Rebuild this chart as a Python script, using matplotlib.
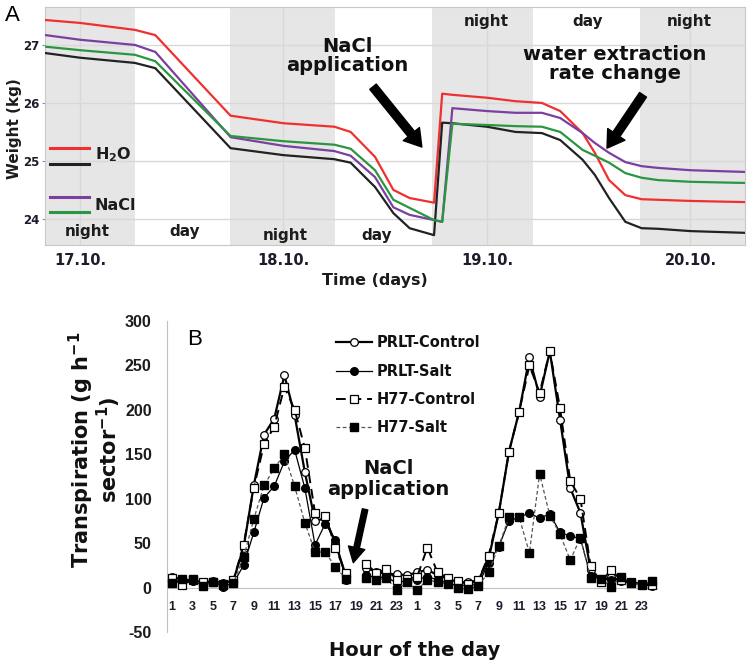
import numpy as np
import matplotlib
matplotlib.use("Agg")
import matplotlib.pyplot as plt
from matplotlib.lines import Line2D

plt.rcParams['font.family'] = ['DejaVu Sans']
plt.rcParams['mathtext.fontset'] = 'dejavusans'

# ---- panel A data: weight (kg) vs time (days after 17.10. 00:00) ----
t_days = [-0.17, 0.0, 0.27, 0.37, 0.74, 1.0, 1.25, 1.33, 1.45, 1.54, 1.62, 1.74,
          1.78, 1.83, 2.0, 2.14, 2.27, 2.36, 2.47, 2.53, 2.6, 2.68, 2.76, 2.84, 3.0, 3.27]
h2o_red = [27.43, 27.38, 27.26, 27.17, 25.78, 25.65, 25.59, 25.50, 25.07, 24.50, 24.36, 24.28,
           26.16, 26.14, 26.09, 26.03, 26.00, 25.86, 25.48, 25.14, 24.67, 24.41, 24.34, 24.33, 24.31, 24.29]
h2o_black = [26.86, 26.78, 26.69, 26.60, 25.22, 25.10, 25.03, 24.97, 24.55, 24.10, 23.84, 23.72,
             25.66, 25.65, 25.59, 25.50, 25.48, 25.36, 25.02, 24.76, 24.36, 23.95, 23.84, 23.83, 23.79, 23.76]
nacl_purple = [27.17, 27.09, 27.00, 26.88, 25.41, 25.26, 25.17, 25.09, 24.72, 24.20, 24.07, 23.98,
               23.95, 25.91, 25.86, 25.83, 25.83, 25.74, 25.48, 25.31, 25.14, 24.98, 24.91, 24.88, 24.84, 24.81]
nacl_green = [26.97, 26.91, 26.83, 26.72, 25.43, 25.34, 25.28, 25.21, 24.84, 24.33, 24.19, 23.98,
              23.95, 25.64, 25.62, 25.60, 25.59, 25.50, 25.19, 25.09, 24.97, 24.79, 24.71, 24.67, 24.64, 24.62]
night_start = [-0.172, 0.737, 1.73, 2.752]
night_end = [0.27, 1.253, 2.226, 3.268]
date_ticks = [0, 1, 2, 3]
date_labels = ['17.10.', '18.10.', '19.10.', '20.10.']

# ---- panel B data: transpiration per hour, two days (48 h) ----
nan = np.nan
hours = list(range(1, 49))
prlt_control = [12, 9, 8, 6, 7, 5, 8,
                45, 115, 172, 190, 239, 194, 130, 75, 78, 50, 14,
                nan,
                22, 18, 15, 15, 14,
                17, 20, 14, 10, 6, 6, 8,
                32, 84, 153, 198, 259, 215, 266, 189, 112, 84, 20, 8, 12, 7, 6, 4, 2]
prlt_salt = [6, 9, 7, 3, 6, 1, 5,
             25, 62, 101, 114, 142, 155, 112, 48, 72, 54, 9,
             nan,
             14, 11, 12, 5, 8,
             9, 12, 9, 5, 2, 3, 3,
             28, 46, 75, 79, 84, 78, 83, 62, 58, 55, 13, 9, 9, 10, 6, 3, 6]
h77_control = [11, 3, 9, 6, 6, 4, 8,
               48, 112, 161, 181, 226, 200, 157, 84, 81, 45, 16,
               nan,
               27, 16, 21, 9, 10,
               12, 45, 17, 11, 7, 4, 8,
               36, 84, 153, 198, 250, 219, 266, 202, 120, 100, 24, 6, 20, 8, 6, 4, 3]
h77_salt = [5, 10, 10, 2, 6, 3, 5,
            34, 77, 115, 134, 150, 114, 73, 40, 40, 23, 10,
            nan,
            11, 8, 11, -3, 6,
            -3, 9, 6, 4, -1, -2, 2,
            17, 47, 79, 79, 39, 128, 81, 60, 31, 56, 11, 10, 1, 12, 5, 3, 7]
hour_ticks = list(range(1, 49, 2))
hour_labels = [str(h) for h in range(1, 25, 2)] * 2
y_ticks_b = [-50, 0, 50, 100, 150, 200, 250, 300]

fig = plt.figure(figsize=(7.5, 6.64), dpi=100)

# ================= panel A =================
axA = fig.add_axes([0.06, 0.631, 0.9333, 0.3585])
axA.set_xlim(-0.172, 3.268)
axA.set_ylim(23.55, 27.655)
for s, e in zip(night_start, night_end):
    axA.axvspan(s, e, color='#e6e6e6', lw=0, zorder=0)
for y in [24, 25, 26, 27]:
    axA.axhline(y, color='#d8d8d8', lw=1, zorder=1)
for x in date_ticks:
    axA.axvline(x, color='#d8d8d8', lw=1, zorder=1)

axA.plot(t_days, h2o_red, color='#f03030', lw=1.6, zorder=3)
axA.plot(t_days, h2o_black, color='#222222', lw=1.6, zorder=3)
axA.plot(t_days, nacl_purple, color='#7b3fa0', lw=1.6, zorder=3)
axA.plot(t_days, nacl_green, color='#2a9640', lw=1.6, zorder=3)

for sp in axA.spines.values():
    sp.set_color('#c8c8c8')
axA.set_yticks([24, 25, 26, 27])
axA.set_yticklabels(['24', '25', '26', '27'], fontsize=8.5, fontweight='bold', color='#1c1c2c')
axA.set_xticks(date_ticks)
axA.set_xticklabels(date_labels, fontsize=10.5, fontweight='bold', color='#1c1c2c')
axA.tick_params(axis='y', length=2, color='#8090b0', pad=2)
axA.tick_params(axis='x', length=0, pad=6)

axA.text(0.471, -0.15, 'Time (days)', transform=axA.transAxes, ha='center', va='center',
         fontsize=11.5, fontweight='bold', color='#1c1c1c')
axA.text(-0.043, 0.487, 'Weight (kg)', transform=axA.transAxes, ha='center', va='center',
         rotation=90, fontsize=11, fontweight='bold', color='#1c1c1c')
fig.text(0.007, 0.977, 'A', fontsize=16, ha='left', va='center', family='Liberation Sans')

# legend of panel A
for yl, col in [(0.408, '#f03030'), (0.34, '#222222'), (0.202, '#7b3fa0'), (0.139, '#2a9640')]:
    axA.plot([0.007, 0.063], [yl, yl], color=col, lw=2.2, transform=axA.transAxes, zorder=4)
axA.text(0.071, 0.378, 'H$_\\mathbf{2}$O', transform=axA.transAxes, fontsize=11.5,
         fontweight='bold', va='center', color='#1c1c1c')
axA.text(0.071, 0.168, 'NaCl', transform=axA.transAxes, fontsize=11.5,
         fontweight='bold', va='center', color='#1c1c1c')

# day / night labels
for xa, ya, lab in [(0.061, 0.055, 'night'), (0.2, 0.055, 'day'), (0.343, 0.042, 'night'),
                    (0.474, 0.042, 'day'), (0.631, 0.937, 'night'), (0.776, 0.937, 'day'),
                    (0.921, 0.937, 'night')]:
    axA.text(xa, ya, lab, transform=axA.transAxes, ha='center', va='center',
             fontsize=11, fontweight='bold', color='#1c1c1c')

axA.text(1.312, 26.81, 'NaCl\napplication', ha='center', va='center', fontsize=14,
         fontweight='bold', color='#111111', linespacing=1.05)
axA.annotate('', xy=(1.68, 25.24), xytext=(1.44, 26.28),
             arrowprops=dict(facecolor='black', edgecolor='black', width=6,
                             headwidth=15, headlength=12, shrink=0))
axA.text(2.629, 26.67, 'water extraction\nrate change', ha='center', va='center', fontsize=14,
         fontweight='bold', color='#111111', linespacing=1.05)
axA.annotate('', xy=(2.59, 25.22), xytext=(2.767, 26.14),
             arrowprops=dict(facecolor='black', edgecolor='black', width=6,
                             headwidth=15, headlength=12, shrink=0))

# ================= panel B =================
axB = fig.add_axes([0.2227, 0.0482, 0.6533, 0.4684])
axB.set_xlim(0.5, 48.5)
axB.set_ylim(-50, 300)

axB.plot(hours, prlt_control, color='black', lw=1.6, marker='o', ms=5.5,
         mfc='white', mec='black', mew=0.9, zorder=3)
axB.plot(hours, prlt_salt, color='black', lw=0.9, marker='o', ms=5.5,
         mfc='black', mec='black', zorder=4)
axB.plot(hours, h77_control, color='black', lw=1.4, ls=(0, (5, 3)), marker='s', ms=6,
         mfc='white', mec='black', mew=0.9, zorder=5)
axB.plot(hours, h77_salt, color='#555555', lw=0.9, ls=(0, (3, 2)), marker='s', ms=6,
         mfc='black', mec='black', zorder=6)

axB.spines['top'].set_visible(False)
axB.spines['right'].set_visible(False)
axB.spines['left'].set_color('#c0c0c0')
axB.spines['bottom'].set_color('#c0c0c0')
axB.spines['bottom'].set_position(('data', 0))
axB.set_xticks(hour_ticks)
axB.set_xticklabels(hour_labels, fontsize=9, fontweight='bold', color='#1c1c2c',
                    family='Liberation Sans')
axB.set_yticks(y_ticks_b)
axB.set_yticklabels([str(v) for v in y_ticks_b], fontsize=11.5, fontweight='bold',
                    color='#1c1c1c', family='Liberation Sans')
axB.tick_params(axis='x', length=0, pad=10)
axB.tick_params(axis='y', length=0, pad=11)

axB.text(-0.148, 0.585, 'Transpiration (g h$^{\\mathbf{-1}}$\nsector$^{\\mathbf{-1}}$)',
         transform=axB.transAxes, rotation=90, ha='center', va='center',
         fontsize=15, fontweight='bold', color='#111111', linespacing=0.95)
axB.text(0.506, -0.058, 'Hour of the day', transform=axB.transAxes, ha='center',
         va='center', fontsize=14, fontweight='bold', color='#111111')
axB.text(0.057, 0.939, 'B', transform=axB.transAxes, fontsize=16, ha='center',
         va='center', family='Liberation Sans')

# legend of panel B (drawn by hand to match the layout)
leg_rows = [
    ('PRLT-Control', dict(color='black', lw=1.6, marker='o', mfc='white', ms=5.5, mew=0.9)),
    ('PRLT-Salt', dict(color='black', lw=0.9, marker='o', mfc='black', ms=5.5)),
    ('H77-Control', dict(color='black', lw=1.4, ls=(0, (5, 3)), marker='s', mfc='white', ms=6, mew=0.9)),
    ('H77-Salt', dict(color='#555555', lw=0.9, ls=(0, (3, 2)), marker='s', mfc='black', ms=6)),
]
for (lab, st), yl in zip(leg_rows, [0.932, 0.839, 0.749, 0.659]):
    ln = Line2D([0.345, 0.3815, 0.418], [yl, yl, yl], transform=axB.transAxes,
                markevery=[1], mec='black', **st)
    axB.add_line(ln)
    axB.text(0.427, yl, lab, transform=axB.transAxes, fontsize=10.5, fontweight='bold',
             va='center', ha='left', color='#111111')

axB.text(22.2, 122, 'NaCl\napplication', ha='center', va='center', fontsize=14,
         fontweight='bold', color='#111111', linespacing=1.1)
axB.annotate('', xy=(18.75, 28), xytext=(19.9, 88),
             arrowprops=dict(facecolor='black', edgecolor='black', width=4,
                             headwidth=12, headlength=11, shrink=0))

fig.savefig('out.png', dpi=100)
